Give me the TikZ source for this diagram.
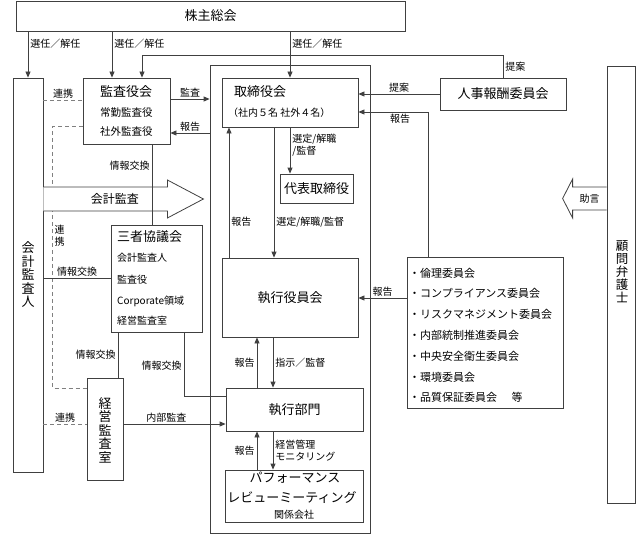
\documentclass[tikz,border=0pt]{standalone}
\usepackage{fontspec}
\setmainfont{Noto Sans CJK JP}
\usepackage{tikz}
\usetikzlibrary{arrows.meta}

\begin{document}
\begin{tikzpicture}[x=1pt, y=-1pt, >={Triangle[length=6pt,width=5pt]},
  box/.style={draw=black!75, line width=0.8pt, inner sep=0pt},
  big/.style={font=\fontsize{13}{15}\selectfont, inner sep=0pt},
  small/.style={font=\fontsize{10.5}{12}\selectfont, inner sep=0pt},
  lbl/.style={font=\fontsize{10}{12}\selectfont, inner sep=2pt},
  vert/.style={font=\fontsize{13}{13.5}\selectfont, align=center, inner sep=0pt},
  link/.style={draw=black!75, line width=0.8pt},
  dlink/.style={draw=black!50, line width=0.8pt, dash pattern=on 4pt off 3pt}]
\useasboundingbox (0,0) rectangle (637,535);

% Shareholders' meeting
\node[box, big, minimum width=389, minimum height=30] (soukai) at (210.5,16) {株主総会};

% Accounting auditor (left column)
\node[box, minimum width=30, minimum height=394] (kaikei) at (28,275) {};
\node[vert] (kaikei-t) at (kaikei) {会\\計\\監\\査\\人};

% Audit & supervisory board
\node[box, minimum width=87, minimum height=66] (kansa) at (126.5,111) {};
\node[big, anchor=west] (kansa-t) at (100,92) {監査役会};
\node[small, anchor=west] (kansa-a) at (100,113) {常勤監査役};
\node[small, anchor=west] (kansa-b) at (100,132) {社外監査役};

% Group frame
\node[box, minimum width=160, minimum height=468] (outer) at (290,299) {};

% Board of directors
\node[box, minimum width=136, minimum height=49] (torishimari) at (290,102.5) {};
\node[big, anchor=west] (torishimari-t) at (234,92) {取締役会};
\node[font=\fontsize{10}{12}\selectfont, inner sep=0pt, anchor=west] (torishimari-a) at (228,113) {（社内５名 社外４名）};

% Nomination committee
\node[box, big, minimum width=126, minimum height=32] (jinji) at (503,94) {人事報酬委員会};

% Representative director
\node[box, big, minimum width=73, minimum height=29] (daihyo) at (316.5,188.5) {代表取締役};

% Executive committee
\node[box, big, minimum width=136, minimum height=79] (yakuin) at (290,297.5) {執行役員会};

% Committees
\node[box, minimum width=156, minimum height=151] (iinkai) at (485,332.5) {};
\node[font=\fontsize{11}{13}\selectfont, inner sep=0pt, anchor=west] (iinkai-a) at (409,273) {・倫理委員会};
\node[font=\fontsize{11}{13}\selectfont, inner sep=0pt, anchor=west] (iinkai-b) at (409,293) {・コンプライアンス委員会};
\node[font=\fontsize{11}{13}\selectfont, inner sep=0pt, anchor=west] (iinkai-c) at (409,314) {・リスクマネジメント委員会};
\node[font=\fontsize{11}{13}\selectfont, inner sep=0pt, anchor=west] (iinkai-d) at (409,335) {・内部統制推進委員会};
\node[font=\fontsize{11}{13}\selectfont, inner sep=0pt, anchor=west] (iinkai-e) at (409,356) {・中央安全衛生委員会};
\node[font=\fontsize{11}{13}\selectfont, inner sep=0pt, anchor=west] (iinkai-f) at (409,377) {・環境委員会};
\node[font=\fontsize{11}{13}\selectfont, inner sep=0pt, anchor=west] (iinkai-g) at (409,397) {・品質保証委員会\hspace{1.3em}等};

% Three-party council
\node[box, minimum width=91, minimum height=107] (sansha) at (156.5,278.5) {};
\node[big, anchor=west] (sansha-t) at (117,237) {三者協議会};
\node[lbl, inner sep=0pt, anchor=west] (sansha-a) at (117,258) {会計監査人};
\node[lbl, inner sep=0pt, anchor=west] (sansha-b) at (117,280) {監査役};
\node[lbl, inner sep=0pt, anchor=west] (sansha-c) at (117,301) {Corporate領域};
\node[lbl, inner sep=0pt, anchor=west] (sansha-d) at (117,321) {経営監査室};

% Management audit office
\node[box, minimum width=36, minimum height=102] (keiei) at (105,429) {};
\node[vert] (keiei-t) at (105,430) {経\\営\\監\\査\\室};

% Business divisions
\node[box, big, minimum width=137, minimum height=43] (shikkoubumon) at (294.5,409.5) {執行部門};

% Performance review meeting
\node[box, minimum width=138, minimum height=52] (prm) at (294,496) {};
\node[big] (prm-a) at (295,478) {パフォーマンス};
\node[big] (prm-b) at (292,498) {レビューミーティング};
\node[lbl, inner sep=0pt] (prm-c) at (294,515) {関係会社};

% Legal counsel
\node[box, minimum width=28, minimum height=437] (komon) at (621,284.5) {};
\node[vert, font=\fontsize{12.5}{13}\selectfont] (komon-t) at (622,272) {顧\\問\\弁\\護\\士};

% Dashed cooperation links
\draw[dlink] ([yshift=11]kansa.west -| kaikei.east) -- node[lbl, above, inner sep=1.5pt] {連携} ([yshift=11]kansa.west);
\draw[dlink] ([yshift=-15]kansa.west) -- ++(-30,0) |- node[lbl, right, pos=0.21, align=center, inner sep=1.5pt] {連\\携} ([yshift=41]keiei.west);
\draw[dlink] ([yshift=5]keiei.west -| kaikei.east) -- node[lbl, above, inner sep=1.5pt] {連携} ([yshift=5]keiei.west);

% Hollow arrows
\coordinate (kaikeiaudit) at ([yshift=76]kaikei.east);
\draw[link, fill=white] (kaikeiaudit) ++(0,-12) -- ++(124,0) -- ++(0,-7) -- ++(36,19) -- ++(-36,19) -- ++(0,-7) -- ++(-124,0);
\node[font=\fontsize{12}{14}\selectfont, inner sep=0pt] (kaikeiaudit-t) at ([xshift=71.5]kaikeiaudit) {会計監査};
\coordinate (komonadv) at ([yshift=86]komon.west);
\draw[link, fill=white] (komonadv) ++(0,-11.5) -- ++(-34,0) -- ++(0,-8) -- ++(-10,19.5) -- ++(10,19.5) -- ++(0,-8) -- ++(34,0);
\node[lbl, inner sep=0pt] (komonadv-t) at ([xshift=-17]komonadv) {助言};

% Election by the shareholders
\draw[link,->] (kaikei.north |- soukai.south) -- node[lbl, right, pos=0.26] {選任／解任} (kaikei.north);
\draw[link,->] ([xshift=-14.5]kansa.north |- soukai.south) -- node[lbl, right, pos=0.26] {選任／解任} ([xshift=-14.5]kansa.north);
\draw[link,->] (torishimari.north |- soukai.south) -- node[lbl, right, pos=0.26] {選任／解任} (torishimari.north);

% Proposals and reports around the board
\draw[link,->] (jinji.north) -- node[lbl, right, pos=0.5] {提案} ++(0,-22) -| ([xshift=15.5]kansa.north);
\draw[link,->] (jinji.west) -- node[lbl, above, inner sep=1.5pt] {提案} (jinji.west -| torishimari.east);
\draw[link,->] ([xshift=-57]iinkai.north) |- node[lbl, below, pos=0.7] {報告} ([yshift=-9.5]torishimari.east);
\draw[link,->] ([yshift=12]kansa.east) -- node[lbl, above, inner sep=1.5pt] {監査} ([yshift=12]kansa.east -| outer.west);
\draw[link,->] ([yshift=-22]kansa.east -| outer.west) -- node[lbl, above, inner sep=1.5pt] {報告} ([yshift=-22]kansa.east);

% Information exchange
\draw[link] ([xshift=25.5]kansa.south) -- node[lbl, left, pos=0.27] {情報交換} ([xshift=25.5]kansa.south |- sansha.north);
\draw[link] (sansha.west -| kaikei.east) -- node[lbl, above, inner sep=1.5pt] {情報交換} (sansha.west);
\draw[link] ([xshift=13]keiei.north |- sansha.south) -- node[lbl, left] {情報交換} ([xshift=13]keiei.north);
\draw[link] ([xshift=27.5]sansha.south) |- node[lbl, left, pos=0.26] {情報交換} ([yshift=13.5]shikkoubumon.west);
\draw[link,->] ([yshift=5]keiei.east) -- node[lbl, above, pos=0.42, inner sep=1.5pt] {内部監査} ([yshift=5]keiei.east -| shikkoubumon.west);

% Board down to the executives
\draw[link,->] (torishimari.south) -- node[lbl, right, align=left, pos=0.39] {選定/解職\\/監督} (torishimari.south |- daihyo.north);
\draw[link,->] ([xshift=-16]torishimari.south) -- node[lbl, right, pos=0.725] {選定/解職/監督} ([xshift=-16]yakuin.north);
\draw[link,->] ([xshift=-61]yakuin.north) -- node[lbl, right, pos=0.275] {報告} ([xshift=-61]yakuin.north |- torishimari.south);
\draw[link,->] ([yshift=34.5]iinkai.west) -- node[lbl, above, inner sep=1.5pt] {報告} ([yshift=34.5]iinkai.west -| yakuin.east);
\draw[link,->] ([xshift=-37.5]shikkoubumon.north) -- node[lbl, left] {報告} ([xshift=-37.5]shikkoubumon.north |- yakuin.south);
\draw[link,->] ([xshift=-21.5]shikkoubumon.north |- yakuin.south) -- node[lbl, right] {指示／監督} ([xshift=-21.5]shikkoubumon.north);
\draw[link,->] ([xshift=-37]prm.north) -- node[lbl, left] {報告} ([xshift=-37]prm.north |- shikkoubumon.south);
\draw[link,->] ([xshift=-21]prm.north |- shikkoubumon.south) -- node[lbl, right, align=left] {経営管理\\モニタリング} ([xshift=-21]prm.north);
\end{tikzpicture}
\end{document}
